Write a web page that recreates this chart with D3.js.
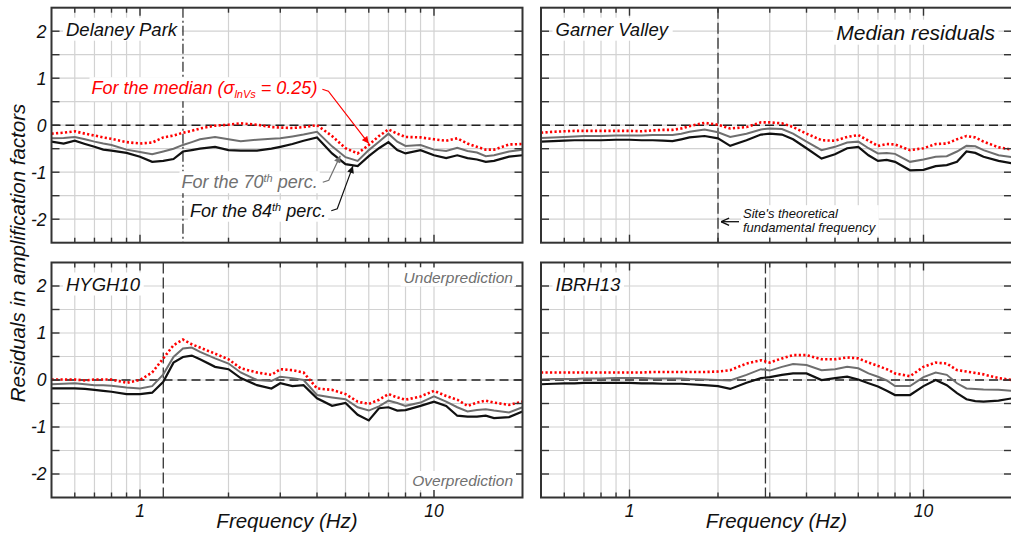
<!DOCTYPE html>
<html>
<head>
<meta charset="utf-8">
<script type="text/javascript" src="https://d3js.org/d3.v7.min.js"></script>
<style>
    body { margin: 0; background: #fff; }
    svg { display: block; font-family: "Liberation Sans", Arial, sans-serif; font-style: italic; }
</style>
</head>
<body>
<div id="chart"></div>
<script>
// ---------------- data ----------------
var freq = [0.5,0.55,0.6,0.65,0.7,0.75,0.8,0.9,1,1.1,1.2,1.3,1.4,1.5,1.6,1.8,2,2.2,2.5,2.8,3,3.3,3.6,4,4.5,5,5.5,6,6.5,7,7.5,8,9,10,11,12,13,14,15,16,18,20];
var sites = ["Delaney Park", "Garner Valley", "HYGH10", "IBRH13"];
var f0 = [1.4, 2.0, 1.2, 2.9];          // site's theoretical fundamental frequency
var yTickLabels = [-2, -1, 0, 1, 2];
var yMinor = [-2, -1.5, -1, -0.5, 0, 0.5, 1, 1.5, 2];
var xGrid = [0.6, 0.7, 0.8, 0.9, 1, 2, 3, 4, 5, 6, 7, 8, 9, 10];
var xTickLabels = [1, 10];

// median residuals (sigma lnVs = 0.25), one row per site
var median = [
    [-0.18,-0.16,-0.13,-0.18,-0.22,-0.26,-0.29,-0.36,-0.39,-0.37,-0.26,-0.22,-0.16,-0.12,-0.07,-0.01,0.01,0.04,0.01,-0.04,-0.05,-0.06,-0.04,0.0,-0.23,-0.49,-0.60,-0.42,-0.23,-0.09,-0.18,-0.25,-0.26,-0.30,-0.33,-0.28,-0.39,-0.46,-0.52,-0.52,-0.41,-0.40],
    [-0.16,-0.14,-0.13,-0.12,-0.12,-0.12,-0.12,-0.12,-0.12,-0.13,-0.11,-0.10,-0.10,-0.07,-0.02,0.05,0.01,-0.07,-0.04,0.06,0.06,0.04,-0.04,-0.18,-0.32,-0.33,-0.25,-0.21,-0.33,-0.44,-0.40,-0.41,-0.53,-0.49,-0.40,-0.39,-0.30,-0.23,-0.26,-0.35,-0.47,-0.52],
    [0.01,0.01,0.01,-0.01,0.01,0.01,0.01,-0.06,0.0,0.16,0.46,0.74,0.86,0.76,0.69,0.56,0.44,0.25,0.16,0.11,0.23,0.21,0.16,-0.18,-0.21,-0.30,-0.46,-0.51,-0.42,-0.30,-0.37,-0.42,-0.35,-0.23,-0.34,-0.42,-0.55,-0.48,-0.44,-0.48,-0.53,-0.46],
    [0.16,0.16,0.16,0.16,0.16,0.16,0.16,0.16,0.16,0.16,0.17,0.17,0.17,0.17,0.17,0.17,0.18,0.21,0.35,0.42,0.37,0.46,0.53,0.53,0.44,0.44,0.48,0.46,0.37,0.30,0.23,0.14,0.08,0.28,0.37,0.35,0.21,0.18,0.15,0.12,0.04,0.0]
];
// 70th percentile
var perc70 = [
    [-0.28,-0.27,-0.25,-0.30,-0.35,-0.39,-0.42,-0.52,-0.57,-0.62,-0.56,-0.50,-0.42,-0.36,-0.30,-0.25,-0.30,-0.34,-0.31,-0.29,-0.28,-0.24,-0.20,-0.14,-0.45,-0.68,-0.76,-0.53,-0.35,-0.18,-0.35,-0.44,-0.42,-0.52,-0.55,-0.48,-0.55,-0.58,-0.66,-0.64,-0.56,-0.52],
    [-0.27,-0.26,-0.25,-0.24,-0.23,-0.23,-0.23,-0.22,-0.22,-0.22,-0.21,-0.21,-0.21,-0.18,-0.14,-0.09,-0.15,-0.25,-0.18,-0.09,-0.07,-0.08,-0.18,-0.35,-0.53,-0.46,-0.37,-0.35,-0.49,-0.60,-0.59,-0.61,-0.78,-0.73,-0.67,-0.66,-0.56,-0.44,-0.45,-0.53,-0.64,-0.68],
    [-0.09,-0.08,-0.07,-0.09,-0.11,-0.11,-0.12,-0.16,-0.18,-0.13,0.12,0.49,0.67,0.69,0.60,0.46,0.35,0.16,0.0,-0.02,0.07,0.04,0.0,-0.32,-0.37,-0.41,-0.58,-0.65,-0.56,-0.44,-0.49,-0.55,-0.48,-0.35,-0.46,-0.58,-0.67,-0.64,-0.62,-0.65,-0.69,-0.58],
    [0.01,0.02,0.02,0.02,0.03,0.03,0.03,0.04,0.04,0.04,0.03,0.03,0.03,0.03,0.02,0.01,0.0,-0.01,0.11,0.23,0.20,0.28,0.34,0.32,0.21,0.23,0.28,0.25,0.14,0.07,-0.01,-0.13,-0.13,0.06,0.16,0.11,-0.07,-0.18,-0.19,-0.20,-0.21,-0.23]
];
// 84th percentile
var perc84 = [
    [-0.35,-0.39,-0.33,-0.40,-0.46,-0.52,-0.54,-0.59,-0.67,-0.78,-0.76,-0.72,-0.56,-0.53,-0.50,-0.46,-0.53,-0.54,-0.54,-0.50,-0.46,-0.40,-0.33,-0.26,-0.60,-0.83,-0.87,-0.66,-0.49,-0.36,-0.53,-0.60,-0.53,-0.64,-0.70,-0.64,-0.70,-0.73,-0.78,-0.76,-0.67,-0.64],
    [-0.35,-0.34,-0.33,-0.32,-0.32,-0.32,-0.32,-0.31,-0.31,-0.32,-0.32,-0.33,-0.34,-0.30,-0.26,-0.23,-0.28,-0.44,-0.32,-0.20,-0.18,-0.20,-0.30,-0.49,-0.71,-0.62,-0.49,-0.46,-0.64,-0.76,-0.74,-0.78,-0.96,-0.95,-0.87,-0.85,-0.78,-0.56,-0.59,-0.67,-0.76,-0.81],
    [-0.18,-0.18,-0.18,-0.19,-0.21,-0.23,-0.25,-0.30,-0.30,-0.27,-0.04,0.37,0.49,0.52,0.44,0.28,0.23,0.04,-0.11,-0.18,-0.07,-0.13,-0.11,-0.39,-0.55,-0.49,-0.74,-0.86,-0.60,-0.58,-0.65,-0.64,-0.55,-0.46,-0.55,-0.76,-0.78,-0.78,-0.76,-0.81,-0.79,-0.67],
    [-0.09,-0.08,-0.07,-0.07,-0.06,-0.06,-0.06,-0.06,-0.06,-0.07,-0.07,-0.08,-0.08,-0.08,-0.09,-0.11,-0.13,-0.19,-0.06,0.04,0.06,0.11,0.14,0.14,0.0,0.04,0.07,0.01,-0.07,-0.14,-0.23,-0.32,-0.32,-0.13,0.0,-0.11,-0.28,-0.41,-0.45,-0.46,-0.44,-0.39]
];

// ---------------- layout ----------------
var W = 1011, H = 536;
var panelW = 471, panelH = 235;
var origins = [[51.5, 7.7], [541, 7.7], [51.5, 262.5], [541, 262.5]];

var x = d3.scaleLog().domain([0.5, 20]).range([0, panelW]);
var y = d3.scaleLinear().domain([-2.5, 2.5]).range([panelH, 0]);

var svg = d3.select('#chart')
    .append('svg')
    .attr('width', W)
    .attr('height', H);

var defs = svg.append('defs');

// small filled arrow heads
[['arrRed', '#ff0000'], ['arrGray', '#707070'], ['arrBlack', '#111']].forEach(function (m) {
    defs.append('marker')
        .attr('id', m[0])
        .attr('viewBox', '0 0 10 10')
        .attr('refX', 10).attr('refY', 5)
        .attr('markerUnits', 'userSpaceOnUse')
        .attr('markerWidth', 8).attr('markerHeight', 7)
        .attr('orient', 'auto')
        .append('path')
        .attr('d', 'M0,0 L10,5 L0,10 Z')
        .attr('fill', m[1]);
});
defs.append('marker')
    .attr('id', 'arrOpen')
    .attr('viewBox', '0 0 10 10')
    .attr('refX', 10).attr('refY', 5)
    .attr('markerUnits', 'userSpaceOnUse')
    .attr('markerWidth', 9).attr('markerHeight', 9)
    .attr('orient', 'auto')
    .append('path')
    .attr('d', 'M1,1 L10,5 L1,9')
    .attr('fill', 'none')
    .attr('stroke', '#111')
    .attr('stroke-width', 1.6);

var lineGen = d3.line()
    .x(function (d) { return x(d[0]); })
    .y(function (d) { return y(d[1]); });

// put a white box behind a text so the grid does not cross it
function whiteBox(g, t, pad) {
    var b = t.node().getBBox();
    g.insert('rect', function () { return t.node(); })
        .attr('x', b.x - pad).attr('y', b.y - 1)
        .attr('width', b.width + 2 * pad).attr('height', b.height + 2)
        .attr('fill', '#fff');
}

var panels = [];

sites.forEach(function (site, i) {
    var g = svg.append('g')
        .attr('transform', 'translate(' + origins[i][0] + ',' + origins[i][1] + ')');
    panels.push(g);

    defs.append('clipPath').attr('id', 'clip' + i)
        .append('rect').attr('width', panelW).attr('height', panelH);

    // grid
    g.selectAll('.vgrid').data(xGrid).enter().append('line')
        .attr('class', 'vgrid')
        .attr('x1', function (d) { return x(d); }).attr('x2', function (d) { return x(d); })
        .attr('y1', 0).attr('y2', panelH)
        .attr('stroke', '#d2d2d2').attr('stroke-width', 1.2);
    g.selectAll('.hgrid').data(yMinor).enter().append('line')
        .attr('class', 'hgrid')
        .attr('x1', 0).attr('x2', panelW)
        .attr('y1', function (d) { return y(d); }).attr('y2', function (d) { return y(d); })
        .attr('stroke', '#d2d2d2').attr('stroke-width', 1.2);

    // zero line
    g.append('line')
        .attr('x1', 0).attr('x2', panelW)
        .attr('y1', y(0)).attr('y2', y(0))
        .attr('stroke', '#222').attr('stroke-width', 1.6)
        .attr('stroke-dasharray', '9,5');

    // fundamental frequency
    g.append('line')
        .attr('x1', x(f0[i])).attr('x2', x(f0[i]))
        .attr('y1', 0).attr('y2', panelH)
        .attr('stroke', '#333').attr('stroke-width', 1.3)
        .attr('stroke-dasharray', i === 0 ? '10,3,2,3' : '11,4');

    // curves
    var curves = g.append('g').attr('clip-path', 'url(#clip' + i + ')');
    curves.append('path')
        .datum(d3.zip(freq, perc84[i]))
        .attr('d', lineGen)
        .attr('fill', 'none').attr('stroke', '#111').attr('stroke-width', 2.2);
    curves.append('path')
        .datum(d3.zip(freq, perc70[i]))
        .attr('d', lineGen)
        .attr('fill', 'none').attr('stroke', '#6e6e6e').attr('stroke-width', 2);
    curves.append('path')
        .datum(d3.zip(freq, median[i]))
        .attr('d', lineGen)
        .attr('fill', 'none').attr('stroke', '#ff0000').attr('stroke-width', 2.6)
        .attr('stroke-dasharray', '2.2,2.3');

    // frame
    g.append('rect')
        .attr('width', panelW).attr('height', panelH)
        .attr('fill', 'none').attr('stroke', '#333').attr('stroke-width', 2);

    // inward ticks
    g.selectAll('.ytl').data(yMinor).enter().append('line')
        .attr('x1', 0).attr('x2', 8)
        .attr('y1', function (d) { return y(d); }).attr('y2', function (d) { return y(d); })
        .attr('stroke', '#333').attr('stroke-width', 1.4);
    g.selectAll('.ytr').data(yMinor).enter().append('line')
        .attr('x1', panelW - 8).attr('x2', panelW)
        .attr('y1', function (d) { return y(d); }).attr('y2', function (d) { return y(d); })
        .attr('stroke', '#333').attr('stroke-width', 1.4);
    [0, panelH].forEach(function (edge) {
        g.selectAll('.xt' + edge).data(xGrid).enter().append('line')
            .attr('x1', function (d) { return x(d); }).attr('x2', function (d) { return x(d); })
            .attr('y1', edge)
            .attr('y2', function (d) {
                var len = (d === 1 || d === 10) ? 8 : 5;
                return edge === 0 ? len : edge - len;
            })
            .attr('stroke', '#333').attr('stroke-width', 1.4);
    });

    // site name
    var t = g.append('text')
        .attr('x', 14.5).attr('y', 28)
        .attr('font-size', 18.5).attr('fill', '#111')
        .text(site);
    whiteBox(g, t, 3);

    // y tick labels on left column
    if (i % 2 === 0) {
        svg.selectAll('.yl' + i).data(yTickLabels).enter().append('text')
            .attr('x', origins[i][0] - 5)
            .attr('y', function (d) { return origins[i][1] + y(d); })
            .attr('dy', '0.36em')
            .attr('text-anchor', 'end')
            .attr('font-size', 17.5).attr('fill', '#111')
            .text(function (d) { return d; });
    }
    // x tick labels and title on bottom row
    if (i >= 2) {
        svg.selectAll('.xl' + i).data(xTickLabels).enter().append('text')
            .attr('x', function (d) { return origins[i][0] + x(d); })
            .attr('y', 517)
            .attr('text-anchor', 'middle')
            .attr('font-size', 17.5).attr('fill', '#111')
            .text(function (d) { return d; });
        svg.append('text')
            .attr('x', origins[i][0] + panelW / 2)
            .attr('y', 528)
            .attr('text-anchor', 'middle')
            .attr('font-size', 20.5).attr('fill', '#111')
            .text('Frequency (Hz)');
    }
});

// y axis title
svg.append('text')
    .attr('transform', 'translate(25,253) rotate(-90)')
    .attr('text-anchor', 'middle')
    .attr('font-size', 20.5).attr('fill', '#111')
    .text('Residuals in amplification factors');

// ---------------- annotations ----------------
var p0 = panels[0];

function leader(g, t, tip, marker, color, up) {
    var b = t.node().getBBox();
    var sx = b.x + b.width + 5, sy = b.y + b.height / 2;
    var kx = sx + 6, ky = sy + (up ? -2 : 2);
    g.append('path')
        .attr('d', 'M' + sx + ',' + sy + ' L' + kx + ',' + ky + ' L' + tip[0] + ',' + tip[1])
        .attr('fill', 'none').attr('stroke', color).attr('stroke-width', 1.2)
        .attr('marker-end', 'url(#' + marker + ')');
}

var tRed = p0.append('text')
    .attr('x', 40).attr('y', 86.5)
    .attr('font-size', 18).attr('fill', '#ff0000');
tRed.append('tspan').text('For the median (\u03c3');
tRed.append('tspan').attr('font-size', 11).attr('dy', 4).text('lnVs');
tRed.append('tspan').attr('dy', -4).text(' = 0.25)');
whiteBox(p0, tRed, 2);
leader(p0, tRed, [x(6.0), y(-0.39)], 'arrRed', '#ff0000', false);

var tGray = p0.append('text')
    .attr('x', 130).attr('y', 180.5)
    .attr('font-size', 18).attr('fill', '#707070');
tGray.append('tspan').text('For the 70');
tGray.append('tspan').attr('font-size', 11).attr('dy', -6).text('th');
tGray.append('tspan').attr('dy', 6).text(' perc.');
whiteBox(p0, tGray, 2);
leader(p0, tGray, [x(4.8), y(-0.65)], 'arrGray', '#707070', true);

var tBlack = p0.append('text')
    .attr('x', 138.5).attr('y', 209)
    .attr('font-size', 18).attr('fill', '#111');
tBlack.append('tspan').text('For the 84');
tBlack.append('tspan').attr('font-size', 11).attr('dy', -6).text('th');
tBlack.append('tspan').attr('dy', 6).text(' perc.');
whiteBox(p0, tBlack, 2);
leader(p0, tBlack, [x(5.3), y(-0.87)], 'arrBlack', '#111', true);

// top right panel notes
var p1 = panels[1];
var tMed = p1.append('text')
    .attr('x', 454).attr('y', 32)
    .attr('text-anchor', 'end')
    .attr('font-size', 21).attr('fill', '#111')
    .text('Median residuals');
whiteBox(p1, tMed, 3);

var tSite = p1.append('text')
    .attr('x', x(f0[1]) + 25).attr('y', 210.5)
    .attr('font-size', 13).attr('fill', '#111');
tSite.append('tspan').text("Site's theoretical");
tSite.append('tspan').attr('x', x(f0[1]) + 25).attr('dy', 14.3).text('fundamental frequency');
whiteBox(p1, tSite, 2);
p1.append('line')
    .attr('x1', x(f0[1]) + 21).attr('x2', x(f0[1]) + 3)
    .attr('y1', 214).attr('y2', 214)
    .attr('stroke', '#111').attr('stroke-width', 1.3)
    .attr('marker-end', 'url(#arrOpen)');

// bottom left panel notes
var p2 = panels[2];
var tUnder = p2.append('text')
    .attr('x', 461.5).attr('y', 20)
    .attr('text-anchor', 'end')
    .attr('font-size', 15.5).attr('fill', '#707070')
    .text('Underprediction');
whiteBox(p2, tUnder, 3);
var tOver = p2.append('text')
    .attr('x', 461.5).attr('y', 223.5)
    .attr('text-anchor', 'end')
    .attr('font-size', 15.5).attr('fill', '#707070')
    .text('Overprediction');
whiteBox(p2, tOver, 3);
</script>
</body>
</html>
